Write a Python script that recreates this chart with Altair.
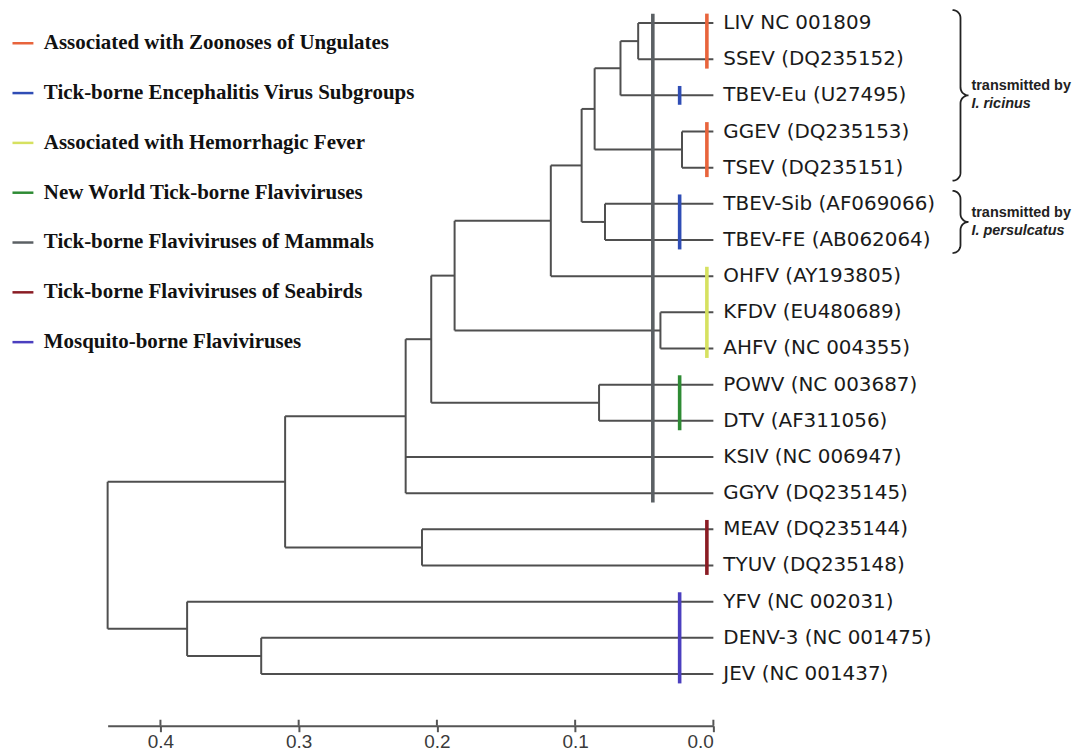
import altair as alt
import numpy as np
import pandas as pd

# ---------------- data ----------------
leaf_ids = ["LIV", "SSEV", "TBEV-Eu", "GGEV", "TSEV", "TBEV-Sib", "TBEV-FE",
            "OHFV", "KFDV", "AHFV", "POWV", "DTV", "KSIV", "GGYV",
            "MEAV", "TYUV", "YFV", "DENV-3", "JEV"]
leaf_labels = ["LIV NC 001809", "SSEV (DQ235152)", "TBEV-Eu (U27495)",
               "GGEV (DQ235153)", "TSEV (DQ235151)", "TBEV-Sib (AF069066)",
               "TBEV-FE (AB062064)", "OHFV (AY193805)", "KFDV (EU480689)",
               "AHFV (NC 004355)", "POWV (NC 003687)", "DTV (AF311056)",
               "KSIV (NC 006947)", "GGYV (DQ235145)", "MEAV (DQ235144)",
               "TYUV (DQ235148)", "YFV (NC 002031)", "DENV-3 (NC 001475)",
               "JEV (NC 001437)"]

node_ids = ["n1", "n2", "n3", "n4", "n5", "n6", "n7", "n8", "n9", "n10",
            "n11", "n12", "n13", "n14", "n15", "n16", "root"]
node_heights = [0.0544, 0.0672, 0.0227, 0.0859, 0.0784, 0.0953, 0.1176,
                0.0383, 0.1872, 0.0827, 0.2041, 0.2226, 0.2108, 0.3098,
                0.3271, 0.3807, 0.4382]
node_children = [["LIV", "SSEV"], ["n1", "TBEV-Eu"], ["GGEV", "TSEV"],
                 ["n2", "n3"], ["TBEV-Sib", "TBEV-FE"], ["n4", "n5"],
                 ["n6", "OHFV"], ["KFDV", "AHFV"], ["n7", "n8"],
                 ["POWV", "DTV"], ["n9", "n10"], ["n11", "KSIV", "GGYV"],
                 ["MEAV", "TYUV"], ["n12", "n13"], ["DENV-3", "JEV"],
                 ["YFV", "n15"], ["n14", "n16"]]

group_names = ["Associated with Zoonoses of Ungulates",
               "Tick-borne Encephalitis Virus Subgroups",
               "Associated with Hemorrhagic Fever",
               " New World Tick-borne Flaviviruses",
               "Tick-borne Flaviviruses of Mammals",
               "Tick-borne Flaviviruses of Seabirds",
               "Mosquito-borne Flaviviruses"]
group_colors = ["#e8643c", "#2f4db5", "#d6e160", "#2e8b34",
                "#5b6064", "#8a1c24", "#4b3fbf"]

bar_group = [0, 0, 1, 1, 2, 3, 4, 5, 6]
bar_first = ["LIV", "GGEV", "TBEV-Eu", "TBEV-Sib", "OHFV", "POWV", "LIV", "MEAV", "YFV"]
bar_last = ["SSEV", "TSEV", "TBEV-Eu", "TBEV-FE", "AHFV", "DTV", "GGYV", "TYUV", "JEV"]
bar_dist = [0.0047, 0.0047, 0.0244, 0.0244, 0.0047, 0.0244, 0.0438, 0.0047, 0.0244]

brace_first = ["LIV", "TBEV-Sib"]
brace_last = ["TSEV", "TBEV-FE"]
brace_text1 = ["transmitted by", "transmitted by"]
brace_text2 = ["I. ricinus", "I. persulcatus"]

tick_values = [0.4, 0.3, 0.2, 0.1, 0.0]

# ---------------- layout constants ----------------
W, H = 608, 718
X_MAX = 0.4382
Y_DOM = [-0.35, 19.43]
PX_X = W / X_MAX
PX_Y = H / (Y_DOM[1] - Y_DOM[0])
BAR_PAD = 0.26
BRACE_PAD = 0.36
BRACE_X = -0.173
BRACE_R = 8.0
TICK = 6

# ---------------- build tree geometry ----------------
pos_y = {lid: float(i) for i, lid in enumerate(leaf_ids)}
pos_h = {lid: 0.0 for lid in leaf_ids}
segs = []
for nid, h, ch in zip(node_ids, node_heights, node_children):
    ys = [pos_y[c] for c in ch]
    pos_y[nid] = (min(ys) + max(ys)) / 2
    pos_h[nid] = h
    segs.append({"x": h, "x2": h, "y": min(ys), "y2": max(ys)})
    for c in ch:
        segs.append({"x": h, "x2": pos_h[c], "y": pos_y[c], "y2": pos_y[c]})
seg_df = pd.DataFrame(segs)

leaf_df = pd.DataFrame({"x": 0.0, "y": [pos_y[l] for l in leaf_ids], "label": leaf_labels})

bar_df = pd.DataFrame({
    "x": bar_dist,
    "y": [pos_y[a] - BAR_PAD for a in bar_first],
    "y2": [pos_y[b] + BAR_PAD for b in bar_last],
    "group": [group_names[g] for g in bar_group],
})

# curly braces
t = np.linspace(0, np.pi / 2, 12)
brace_rows = []
ann_rows = []
for bi, (a, b) in enumerate(zip(brace_first, brace_last)):
    top = pos_y[a] - BRACE_PAD
    bot = pos_y[b] + BRACE_PAD
    mid = (top + bot) / 2
    r = BRACE_R
    ry = r / PX_Y
    px, py = [], []
    px += list(r * np.sin(t)); py += list(top + ry - ry * np.cos(t))
    px += list(2 * r - r * np.cos(t)); py += list(mid - ry + ry * np.sin(t))
    px += list(2 * r - r * np.sin(t)); py += list(mid + ry - ry * np.cos(t))
    px += list(r * np.cos(t)); py += list(bot - ry + ry * np.sin(t))
    for k, (qx, qy) in enumerate(zip(px, py)):
        brace_rows.append({"brace": bi, "order": k, "x": BRACE_X - qx / PX_X, "y": qy})
    ann_rows.append({"x": BRACE_X - 2 * r / PX_X, "y": mid, "t1": brace_text1[bi], "t2": brace_text2[bi]})
brace_df = pd.DataFrame(brace_rows)
ann_df = pd.DataFrame(ann_rows)
tick_df = pd.DataFrame({"x": tick_values})

# ---------------- encodings ----------------
xscale = alt.Scale(domain=[X_MAX, 0.0], nice=False, zero=False)
yscale = alt.Scale(domain=Y_DOM, reverse=True, nice=False, zero=False)
xaxis = alt.Axis(values=tick_values, format=".1f", title=None, grid=False,
                 domainColor="#555555", domainWidth=2, tickColor="#555555",
                 tickWidth=2, tickSize=TICK, labelFont="Liberation Sans",
                 labelFontSize=19, labelColor="#3a3a3a", labelPadding=1)


def X(f="x"):
    return alt.X(f, type="quantitative", scale=xscale, axis=xaxis)


def Y(f="y"):
    return alt.Y(f, type="quantitative", scale=yscale, axis=None)


tree = alt.Chart(seg_df).mark_rule(color="#4f4f4f", strokeWidth=2).encode(
    x=X(), x2="x2", y=Y(), y2="y2")

bars = alt.Chart(bar_df).mark_rule(strokeWidth=3.6).encode(
    x=X(), y=Y(), y2="y2",
    color=alt.Color("group:N",
                    scale=alt.Scale(domain=group_names, range=group_colors),
                    legend=alt.Legend(orient="none", legendX=-97, legendY=21,
                                      title=None, symbolType="stroke",
                                      symbolSize=441, symbolStrokeWidth=2.5,
                                      labelFont="Liberation Serif",
                                      labelFontWeight="bold", labelFontSize=21,
                                      labelColor="#111111", rowPadding=28,
                                      labelOffset=9, labelLimit=600, padding=0)))

labels = alt.Chart(leaf_df).mark_text(align="left", baseline="middle", dx=10,
                                      font="DejaVu Sans", fontSize=20,
                                      color="#1a1a1a").encode(
    x=X(), y=Y(), text="label:N")

upper_ticks = alt.Chart(tick_df).mark_rule(color="#555555", strokeWidth=2).encode(
    x=X(), y=alt.value(H - TICK), y2=alt.value(H))

braces = alt.Chart(brace_df).mark_line(color="#222222", strokeWidth=1.8).encode(
    x=X(), y=Y(), detail="brace:N", order="order:Q")

ann1 = alt.Chart(ann_df).mark_text(align="left", baseline="middle", dx=3, dy=-9,
                                   font="Liberation Sans", fontWeight="bold",
                                   fontSize=14.5, color="#222222").encode(
    x=X(), y=Y(), text="t1:N")
ann2 = alt.Chart(ann_df).mark_text(align="left", baseline="middle", dx=3, dy=9,
                                   font="Liberation Sans", fontWeight="bold",
                                   fontStyle="italic", fontSize=14.5,
                                   color="#222222").encode(
    x=X(), y=Y(), text="t2:N")

chart = alt.layer(tree, upper_ticks, bars, labels, braces, ann1, ann2).properties(
    width=W, height=H,
    autosize=alt.AutoSizeParams(type="none"),
    padding={"left": 100, "top": 1, "right": 370, "bottom": 28},
).configure_view(strokeWidth=0)

chart.save("out.html", embed_options={"renderer": "svg", "actions": False})
